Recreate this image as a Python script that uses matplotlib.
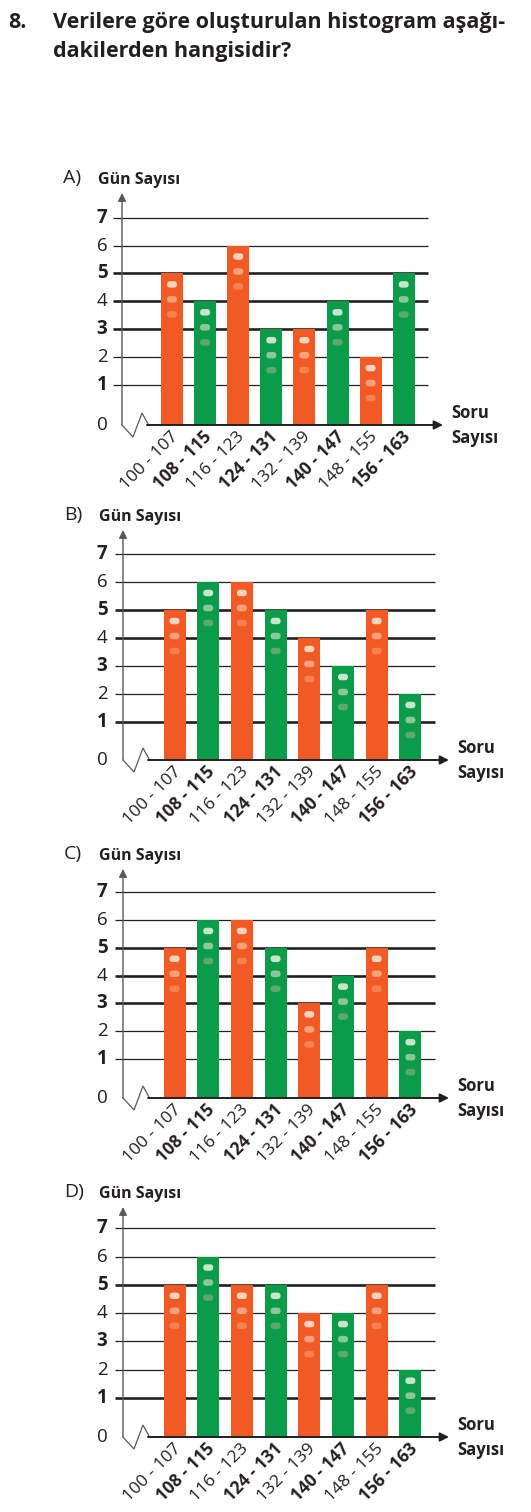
import numpy as np
import matplotlib.pyplot as plt
from matplotlib.patches import FancyBboxPatch

# data
bins = ['100 - 107', '108 - 115', '116 - 123', '124 - 131',
        '132 - 139', '140 - 147', '148 - 155', '156 - 163']
options = ['A)', 'B)', 'C)', 'D)']
values_a = [5, 4, 6, 3, 3, 4, 2, 5]
values_b = [5, 6, 6, 5, 4, 3, 5, 2]
values_c = [5, 6, 6, 5, 3, 4, 5, 2]
values_d = [5, 6, 5, 5, 4, 4, 5, 2]
y_ticks = [0, 1, 2, 3, 4, 5, 6, 7]
# grid lines that print heavier in each option
heavy_a = [3, 4, 5]
heavy_b = [1, 4, 5]
heavy_c = [3, 4, 5]
heavy_d = [1, 5]

ORANGE = '#f15a24'
GREEN = '#0a9c49'
DOTS_O = ['#fdd3bd', '#f9a17c', '#f5834f']
DOTS_G = ['#c9e4cc', '#8cc79a', '#5caa6b']
INK = '#231f20'

W, H = 531, 1512
fig = plt.figure(figsize=(W / 100, H / 100), dpi=100)
plt.rcParams['font.family'] = ['Open Sans', 'DejaVu Sans']

# title
fig.text(8 / W, 1 - 28 / H, '8.', fontsize=15.5, fontweight='bold', color=INK)
fig.text(53 / W, 1 - 28 / H, 'Verilere göre oluşturulan histogram aşağı-',
         fontsize=15.5, fontweight='bold', color=INK)
fig.text(53 / W, 1 - 57 / H, 'dakilerden hangisidir?',
         fontsize=15.5, fontweight='bold', color=INK)

# pixel layout of each panel: bar0 centre, px per bar, px of value 1,
# px per unit, px of x-axis, y axis x, grid left/right, arrow tips
layouts = [
    dict(x0=172, sx=33.1, y1=385, sy=27.9, yb=425, ax_x=122, gl=113, gr=428, ar=443, at=193),
    dict(x0=174.5, sx=33.7, y1=722, sy=28.0, yb=760, ax_x=123, gl=115, gr=435, ar=449, at=530),
    dict(x0=174.5, sx=33.7, y1=1059, sy=27.8, yb=1098, ax_x=123, gl=115, gr=435, ar=449, at=869),
    dict(x0=174.5, sx=33.7, y1=1398, sy=28.3, yb=1437, ax_x=123, gl=115, gr=435, ar=449, at=1207),
]
all_values = [values_a, values_b, values_c, values_d]
all_heavy = [heavy_a, heavy_b, heavy_c, heavy_d]

for opt, vals, heavy, L in zip(options, all_values, all_heavy, layouts):
    top = L['y1'] - 9 * L['sy'] - 20
    bot = L['yb'] + 90
    ax = fig.add_axes([0, 1 - bot / H, 1, (bot - top) / H])
    ax.axis('off')

    def px_x(p):
        return (p - L['x0']) / L['sx']

    def px_y(p):
        return 1 + (L['y1'] - p) / L['sy']

    ax.set_xlim(px_x(0), px_x(W))
    ax.set_ylim(px_y(bot), px_y(top))
    vb = px_y(L['yb'])
    x = np.arange(len(bins))
    vals = np.array(vals)

    # grid lines
    for t in y_ticks[1:]:
        lw = 1.9 if t in heavy else 0.9
        ax.hlines(t, px_x(L['gl']), px_x(L['gr']), color=INK, lw=lw, zorder=1)

    # bars
    cols = [ORANGE if i % 2 == 0 else GREEN for i in x]
    bw = 22 / L['sx']
    ax.bar(x, vals - vb, bottom=vb, width=bw, color=cols, zorder=2)

    # little dots near bar tops
    dw, dh = 10 / L['sx'], 6.5 / L['sy']
    for i, v in zip(x, vals):
        dcols = DOTS_O if i % 2 == 0 else DOTS_G
        for k, off in enumerate([11, 26, 41]):
            cy = v - off / L['sy']
            p = FancyBboxPatch((i - dw / 2, cy - dh / 2), dw, dh,
                               boxstyle='round,pad=0,rounding_size=%f' % (3.2 / L['sx']),
                               mutation_aspect=L['sx'] / L['sy'],
                               fc=dcols[k], ec='none', zorder=3)
            ax.add_patch(p)

    # y axis with arrow
    ax.annotate('', xy=(px_x(L['ax_x']), px_y(L['at'])), xytext=(px_x(L['ax_x']), vb),
                arrowprops=dict(arrowstyle='-|>', color='#58595b', lw=1.0,
                                mutation_scale=12, shrinkA=0, shrinkB=0), zorder=4)
    # break zigzag
    zx = [L['ax_x'], L['ax_x'] + 11, L['ax_x'] + 20, L['ax_x'] + 26]
    zy = [L['yb'], L['yb'] + 12, L['yb'] - 12, L['yb'] - 1]
    ax.plot([px_x(p) for p in zx], [px_y(p) for p in zy], color='#58595b', lw=0.9,
            solid_joinstyle='miter', zorder=4)
    # x axis with arrow
    ax.annotate('', xy=(px_x(L['ar']), vb), xytext=(px_x(L['ax_x'] + 25), vb),
                arrowprops=dict(arrowstyle='-|>', color=INK, lw=1.4,
                                mutation_scale=13, shrinkA=0, shrinkB=0), zorder=4)

    # y tick labels
    for t in y_ticks:
        yy = vb if t == 0 else t
        ax.text(px_x(102), yy, str(t), ha='center', va='center', fontsize=13.5,
                fontweight='bold' if t % 2 == 1 else 'normal', color=INK)

    # x tick labels
    for i, lab in zip(x, bins):
        ax.text(i + 4 / L['sx'], vb - 9 / L['sy'], lab, rotation=45,
                rotation_mode='anchor', ha='right', va='center', fontsize=12.5,
                fontweight='bold' if i % 2 == 1 else 'normal', color=INK)

    # labels
    ax.text(px_x(L['ax_x'] - 59), px_y(L['at'] - 15), opt, fontsize=14,
            ha='left', va='center', color=INK)
    ax.text(px_x(L['ax_x'] - 24), px_y(L['at'] - 13), 'Gün Sayısı', fontsize=11.5,
            fontweight='bold', ha='left', va='center', color=INK)
    ax.text(px_x(L['ar'] + 8), vb + 12 / L['sy'], 'Soru', fontsize=12,
            fontweight='bold', ha='left', va='center', color=INK)
    ax.text(px_x(L['ar'] + 8), vb - 13 / L['sy'], 'Sayısı', fontsize=12,
            fontweight='bold', ha='left', va='center', color=INK)

plt.savefig('out.png', dpi=100)
